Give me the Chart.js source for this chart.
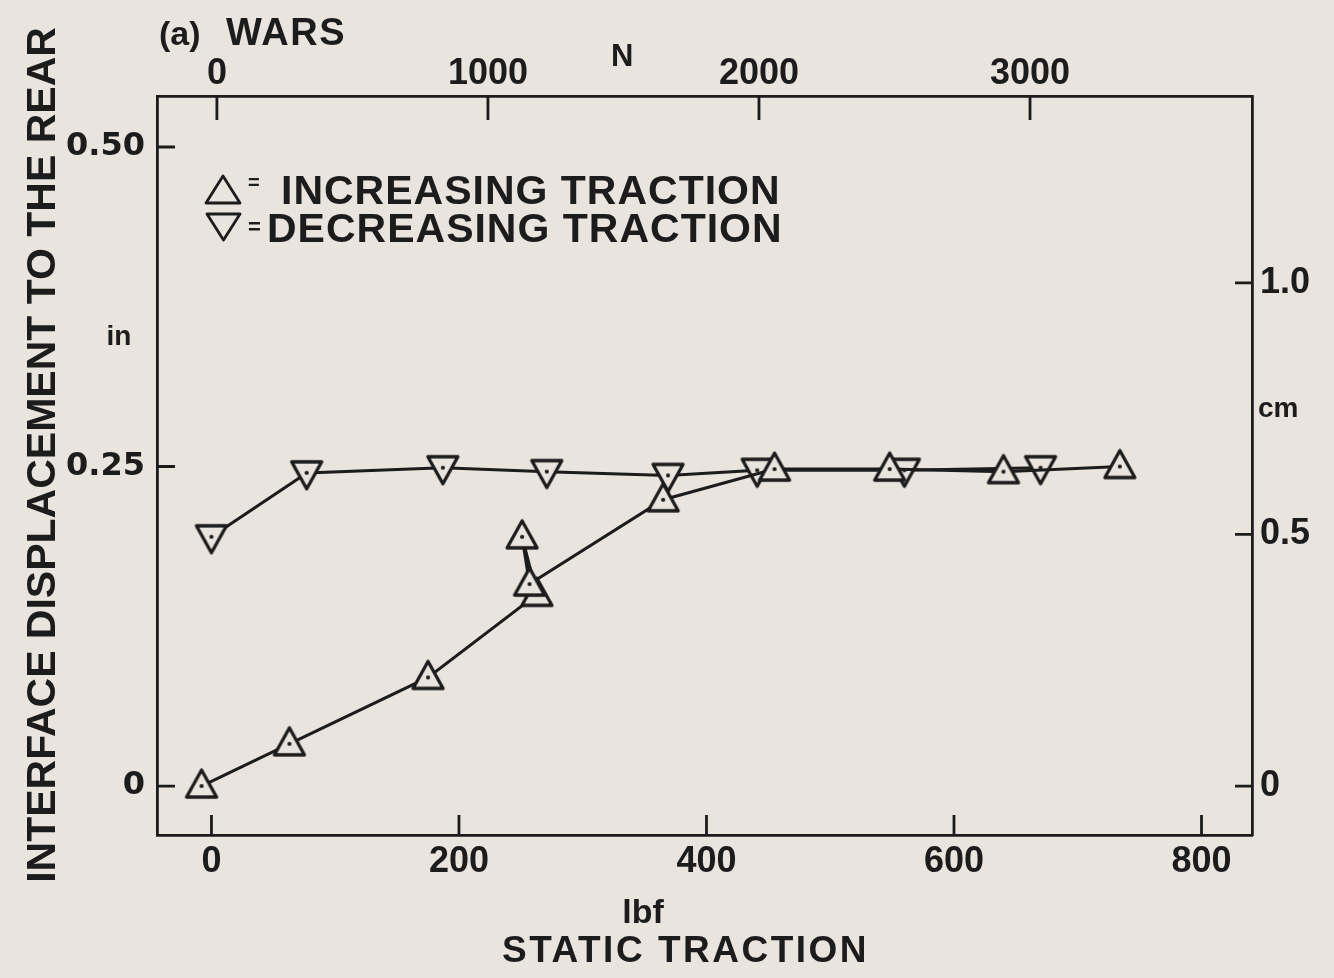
<!DOCTYPE html>
<html>
<head>
<meta charset="utf-8">
<title>WARS – interface displacement vs static traction</title>
<script src="https://cdn.jsdelivr.net/npm/chart.js@4.4.1/dist/chart.umd.min.js"></script>
<style>
  html, body { margin: 0; padding: 0; background: #e9e4de; }
  #wrap { width: 1334px; height: 978px; }
  canvas { display: block; }
</style>
</head>
<body>
<div id="wrap"><canvas id="chart" width="1334" height="978"></canvas></div>
<script>
// Increasing traction: static traction (lbf) and interface displacement (in)
const increasingLbf = [-8, 63, 175, 263, 251, 257, 365, 455, 548, 640, 734];
const increasingIn  = [0.000, 0.033, 0.085, 0.150, 0.195, 0.158, 0.224, 0.248, 0.248, 0.246, 0.250];

// Decreasing traction
const decreasingLbf = [0, 77, 187, 271, 369, 441, 560, 670];
const decreasingIn  = [0.195, 0.245, 0.249, 0.246, 0.243, 0.247, 0.247, 0.249];

// Axis ticks and labels
const lbfTicks = [0, 200, 400, 600, 800];
const newtonTicks = [0, 1000, 2000, 3000];
const inchTicks = [0, 0.25, 0.5];
const inchLabels = ['0', '0.25', '0.50'];
const cmTicks = [0, 0.5, 1.0];
const cmLabels = ['0', '0.5', '1.0'];

const PAPER = '#e9e4de';
const INK = '#1c1c1c';
const FONT = '"Liberation Sans", Arial, Helvetica, sans-serif';
const WIDE_FONT = '"DejaVu Sans", "Liberation Sans", Arial, sans-serif';

// axis ranges
const LBF_MIN = -44, LBF_MAX = 840.8;
const N_MIN = -221, N_MAX = 3819;
const IN_MIN = -0.0383, IN_MAX = 0.5399;
const CM_PER_IN = 2.54;

// hollow triangle marker with a centre dot
function triangleMarker() {
  const c = document.createElement('canvas');
  c.width = 46; c.height = 46;
  const g = c.getContext('2d');
  const cx = 23, cy = 23, w = 30, top = 16, bottom = 11;
  g.beginPath();
  g.moveTo(cx, cy - top);
  g.lineTo(cx + w / 2, cy + bottom);
  g.lineTo(cx - w / 2, cy + bottom);
  g.closePath();
  g.fillStyle = PAPER;
  g.fill();
  g.lineJoin = 'round';
  g.lineWidth = 3.3;
  g.strokeStyle = INK;
  g.stroke();
  g.beginPath();
  g.arc(cx, cy, 2.1, 0, Math.PI * 2);
  g.fillStyle = INK;
  g.fill();
  return c;
}
const marker = triangleMarker();

const toPoints = (xs, ys) => xs.map((x, i) => ({ x: x, y: ys[i] }));

// background
const paperPlugin = {
  id: 'paper',
  beforeDraw(chart) {
    const ctx = chart.ctx;
    ctx.save();
    ctx.fillStyle = PAPER;
    ctx.fillRect(0, 0, chart.width, chart.height);
    ctx.restore();
  }
};

// tick marks drawn inward from the frame
const inwardTicks = {
  id: 'inwardTicks',
  beforeDatasetsDraw(chart) {
    const { ctx, chartArea: a, scales } = chart;
    ctx.save();
    ctx.strokeStyle = INK;
    ctx.lineWidth = 2.8;
    ctx.beginPath();
    scales.x.ticks.forEach(t => {
      const p = scales.x.getPixelForValue(t.value);
      ctx.moveTo(p, a.bottom); ctx.lineTo(p, a.bottom - 20);
    });
    scales.xTop.ticks.forEach(t => {
      const p = scales.xTop.getPixelForValue(t.value);
      ctx.moveTo(p, a.top); ctx.lineTo(p, a.top + 24);
    });
    scales.y.ticks.forEach(t => {
      const p = scales.y.getPixelForValue(t.value);
      ctx.moveTo(a.left, p); ctx.lineTo(a.left + 18, p);
    });
    scales.yCm.ticks.forEach(t => {
      const p = scales.yCm.getPixelForValue(t.value);
      ctx.moveTo(a.right, p); ctx.lineTo(a.right - 17, p);
    });
    ctx.stroke();
    ctx.restore();
  }
};

// titles, unit labels and the key
function txt(ctx, s, x, y, size, opts) {
  opts = opts || {};
  ctx.font = 'bold ' + size + 'px ' + FONT;
  ctx.textAlign = opts.align || 'left';
  ctx.textBaseline = opts.baseline || 'alphabetic';
  ctx.letterSpacing = (opts.spacing || 0) + 'px';
  ctx.fillText(s, x, y);
  ctx.letterSpacing = '0px';
}

const annotations = {
  id: 'annotations',
  afterDraw(chart) {
    const ctx = chart.ctx;
    ctx.save();
    ctx.fillStyle = INK;

    txt(ctx, '(a)', 159, 45, 34);
    txt(ctx, 'WARS', 226, 45, 38, { spacing: 1.5 });
    txt(ctx, 'N', 611, 66, 31);
    txt(ctx, 'in', 119, 345, 28, { align: 'center' });
    txt(ctx, 'cm', 1258, 417, 28);
    txt(ctx, 'lbf', 643, 923, 34, { align: 'center' });
    txt(ctx, 'STATIC TRACTION', 502, 962, 37, { spacing: 2.5 });

    ctx.save();
    ctx.translate(55, 455);
    ctx.rotate(-Math.PI / 2);
    txt(ctx, 'INTERFACE DISPLACEMENT TO THE REAR', 0, 0, 41, { align: 'center' });
    ctx.restore();

    // key
    ctx.strokeStyle = INK;
    ctx.lineWidth = 2.8;
    ctx.lineJoin = 'round';
    ctx.beginPath();
    ctx.moveTo(223, 176); ctx.lineTo(240, 203); ctx.lineTo(206, 203); ctx.closePath();
    ctx.stroke();
    ctx.beginPath();
    ctx.moveTo(207, 214); ctx.lineTo(240, 214); ctx.lineTo(223.5, 240); ctx.closePath();
    ctx.stroke();
    txt(ctx, '=', 248, 183, 20, { baseline: 'middle' });
    txt(ctx, '=', 248, 228, 22, { baseline: 'middle' });
    txt(ctx, 'INCREASING TRACTION', 281, 204, 41, { spacing: 1.0 });
    txt(ctx, 'DECREASING TRACTION', 267, 242, 41, { spacing: 1.0 });

    ctx.restore();
  }
};

const tickFont = { family: FONT, size: 36, weight: 'bold', lineHeight: 1 };
const wideTickFont = { family: WIDE_FONT, size: 32, weight: 'bold', lineHeight: 1 };
const frame = { display: true, color: INK, width: 2.8 };
const noGrid = { drawOnChartArea: false, drawTicks: false };

new Chart(document.getElementById('chart'), {
  type: 'line',
  data: {
    datasets: [
      {
        label: 'INCREASING TRACTION',
        data: toPoints(increasingLbf, increasingIn),
        order: 0,
        borderColor: INK,
        borderWidth: 3,
        tension: 0,
        pointStyle: marker,
        pointRadius: 16,
        pointRotation: 0
      },
      {
        label: 'DECREASING TRACTION',
        data: toPoints(decreasingLbf, decreasingIn),
        order: 1,
        borderColor: INK,
        borderWidth: 3,
        tension: 0,
        pointStyle: marker,
        pointRadius: 16,
        pointRotation: 180
      }
    ]
  },
  options: {
    responsive: false,
    devicePixelRatio: 1,
    animation: false,
    events: [],
    layout: { padding: 0 },
    plugins: {
      legend: { display: false },
      tooltip: { enabled: false },
      title: { display: false }
    },
    scales: {
      x: {
        type: 'linear',
        position: 'bottom',
        min: LBF_MIN,
        max: LBF_MAX,
        afterBuildTicks: s => { s.ticks = lbfTicks.map(v => ({ value: v })); },
        afterFit: s => { s.height = 143; },
        ticks: { font: tickFont, color: INK, padding: 9, maxRotation: 0, autoSkip: false,
                 callback: v => String(v) },
        grid: noGrid,
        border: frame
      },
      xTop: {
        axis: 'x',
        type: 'linear',
        position: 'top',
        min: N_MIN,
        max: N_MAX,
        afterBuildTicks: s => { s.ticks = newtonTicks.map(v => ({ value: v })); },
        afterFit: s => { s.height = 96; },
        ticks: { font: tickFont, color: INK, padding: 4, maxRotation: 0, autoSkip: false,
                 callback: v => String(v) },
        grid: noGrid,
        border: frame
      },
      y: {
        type: 'linear',
        position: 'left',
        min: IN_MIN,
        max: IN_MAX,
        afterBuildTicks: s => { s.ticks = inchTicks.map(v => ({ value: v })); },
        afterFit: s => { s.width = 157; },
        ticks: { font: wideTickFont, color: INK, padding: 12, autoSkip: false,
                 callback: v => inchLabels[inchTicks.indexOf(v)] },
        grid: noGrid,
        border: frame
      },
      yCm: {
        axis: 'y',
        type: 'linear',
        position: 'right',
        min: IN_MIN * CM_PER_IN,
        max: IN_MAX * CM_PER_IN,
        afterBuildTicks: s => { s.ticks = cmTicks.map(v => ({ value: v })); },
        afterFit: s => { s.width = 82; },
        ticks: { font: tickFont, color: INK, padding: 8, autoSkip: false,
                 callback: v => cmLabels[cmTicks.indexOf(v)] },
        grid: noGrid,
        border: frame
      }
    }
  },
  plugins: [paperPlugin, inwardTicks, annotations]
});
</script>
</body>
</html>
